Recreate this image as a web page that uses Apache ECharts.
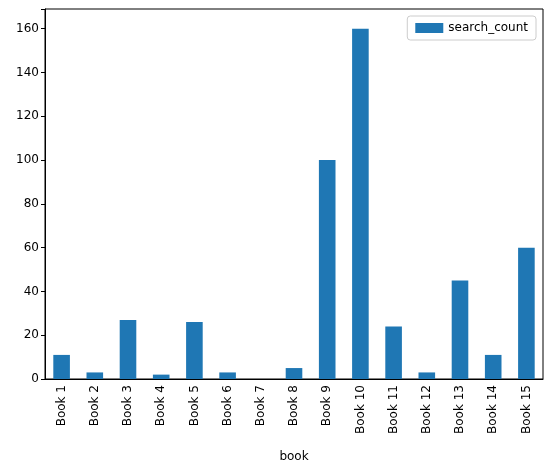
<!DOCTYPE html>
<html><head><meta charset="utf-8">
<script src="https://cdn.jsdelivr.net/npm/echarts@6/dist/echarts.min.js"></script>
<style>html,body{margin:0;padding:0;background:#fff}#c{width:552px;height:475px}</style>
</head><body><div id="c"></div>
<script>
const categories = ["Book 1","Book 2","Book 3","Book 4","Book 5","Book 6","Book 7","Book 8","Book 9","Book 10","Book 11","Book 12","Book 13","Book 14","Book 15"];
const searchCount = [11,3,27,2,26,3,0,5,100,160,24,3,45,11,60];
const yTicks = [0,20,40,60,80,100,120,140,160];
const chart = echarts.init(document.getElementById('c'));
const font = "DejaVu Sans";
chart.setOption({
  animation:false,
  textStyle:{fontFamily:font},
  grid:{left:45,right:9,top:9,bottom:96,containLabel:false},
  legend:{top:16,right:16,itemWidth:28,itemHeight:10,itemGap:6,
    data:[{name:'search_count',icon:'rect'}],
    textStyle:{fontFamily:font,fontSize:12,color:'#000'},
    borderColor:'#cccccc',borderWidth:1,borderRadius:3,padding:[6,8,6,8],backgroundColor:'#fff'},
  xAxis:{type:'category',data:categories,name:'book',nameLocation:'middle',nameGap:72,
    nameTextStyle:{fontFamily:font,fontSize:12,color:'#000'},
    axisLine:{lineStyle:{color:'#000'}},axisTick:{alignWithLabel:true,length:4,lineStyle:{color:'#000'}},
    axisLabel:{rotate:90,fontFamily:font,fontSize:12,color:'#000',interval:0,margin:6}},
  yAxis:{type:'value',min:0,max:169,interval:20,
    axisLine:{show:true,lineStyle:{color:'#000'}},axisTick:{show:true,length:4,lineStyle:{color:'#000'}},
    splitLine:{show:false},
    axisLabel:{fontFamily:font,fontSize:12,color:'#000',margin:6,
      formatter:v=>yTicks.includes(v)?String(v):''}},
  series:[{name:'search_count',type:'bar',data:searchCount,barWidth:'50%',itemStyle:{color:'#1f77b4'}}]
});
// top/right spine
chart.setOption({graphic:[{type:'rect',shape:{x:45,y:9,width:498,height:370},style:{fill:'none',stroke:'#000',lineWidth:1},silent:true}]});
</script></body></html>
